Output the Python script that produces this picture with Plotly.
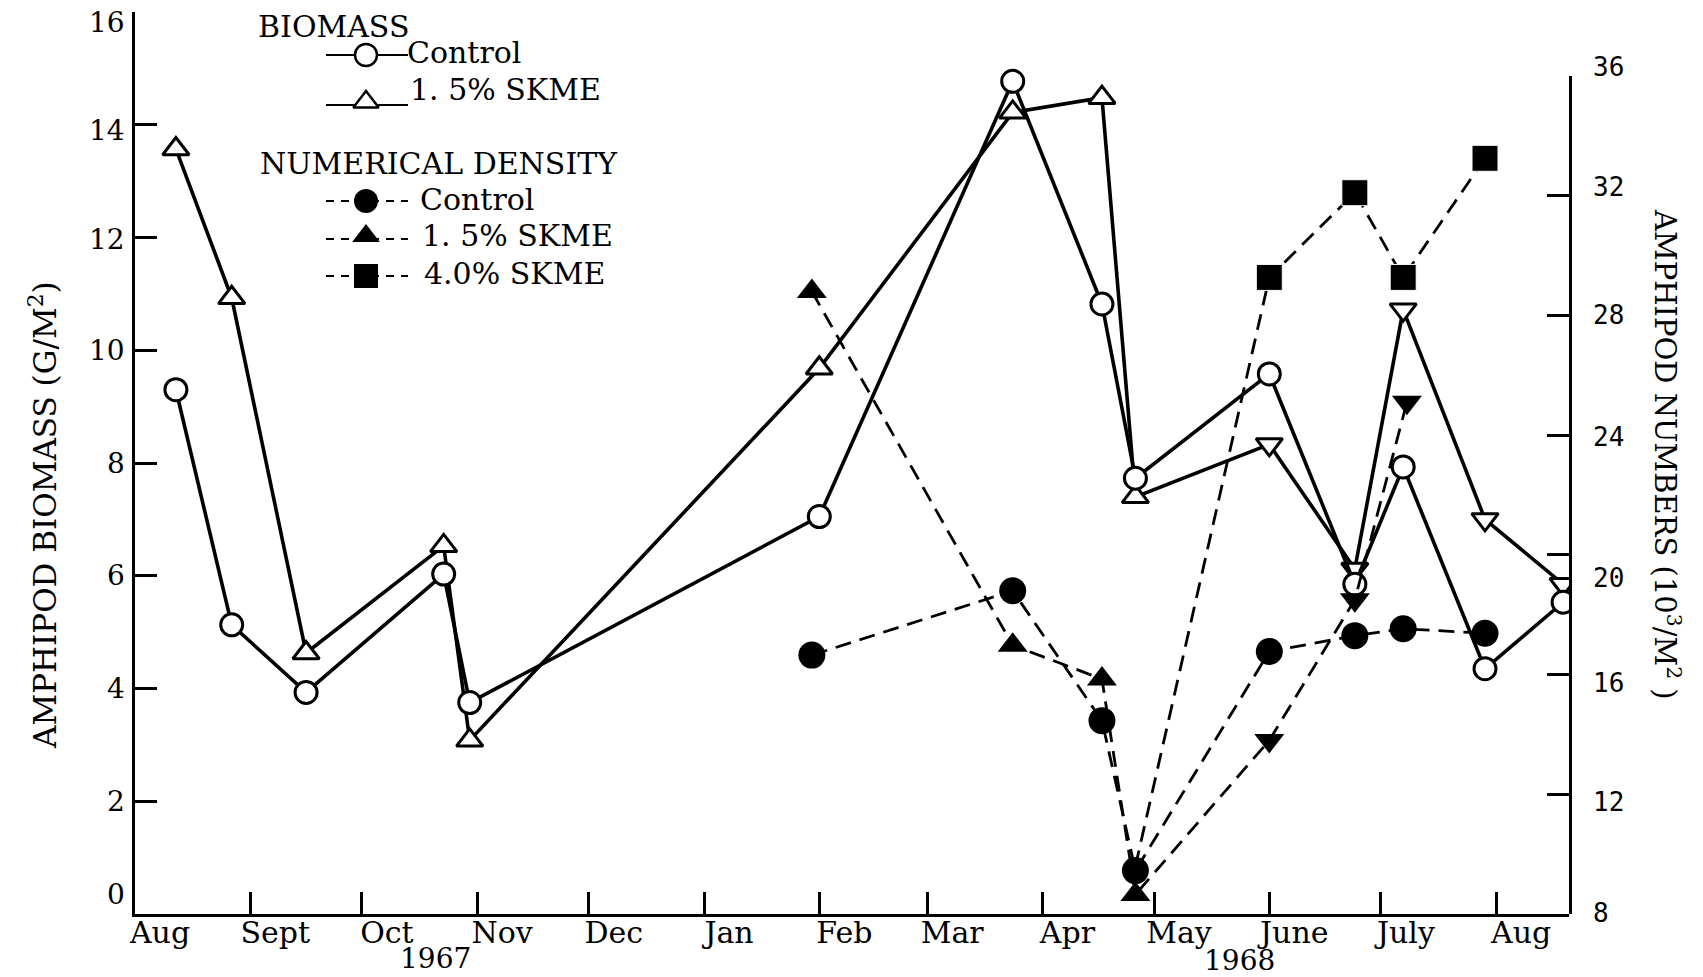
import plotly.graph_objects as go

# ---------------- data ----------------
# Biomass sampling dates (g per square metre, left axis)
bio_dates = ["1967-08-12", "1967-08-27", "1967-09-16", "1967-10-23", "1967-10-30",
             "1968-02-01", "1968-03-24", "1968-04-17", "1968-04-26", "1968-06-01",
             "1968-06-24", "1968-07-07", "1968-07-29", "1968-08-19"]
bio_control = [9.3, 5.13, 3.93, 6.03, 3.75, 7.05, 14.77, 10.82, 7.73, 9.58, 5.85, 7.93, 4.35, 5.53]
bio_skme15 = [13.57, 10.93, 4.63, 6.53, 3.08, 9.68, 14.22, 14.48, 7.4, 8.33, 6.12, 10.72, 7.0, 5.85]

# Numerical density (10^3 per square metre, right axis)
dens_control_dates = ["1968-01-30", "1968-03-24", "1968-04-17", "1968-04-26",
                      "1968-06-01", "1968-06-24", "1968-07-07", "1968-07-29"]
dens_control = [16.65, 18.8, 14.46, 9.45, 16.77, 17.3, 17.53, 17.38]

dens_skme15_dates = ["1968-01-30", "1968-03-24", "1968-04-17", "1968-04-26",
                     "1968-06-01", "1968-06-24", "1968-07-08"]
dens_skme15 = [28.8, 16.98, 15.85, 8.65, 13.8, 18.5, 25.1]

dens_skme40_dates = ["1968-04-26", "1968-06-01", "1968-06-24", "1968-07-07", "1968-07-29"]
dens_skme40 = [9.6, 29.27, 32.1, 29.27, 33.25]

# Axis ticks
month_ticks = ["1967-08-01", "1967-09-01", "1967-10-01", "1967-11-01", "1967-12-01",
               "1968-01-01", "1968-02-01", "1968-03-01", "1968-04-01", "1968-05-01",
               "1968-06-01", "1968-07-01", "1968-08-01"]
month_labels = ["Aug", "Sept", "Oct", "Nov", "Dec", "Jan", "Feb", "Mar", "Apr",
                "May", "June", "July", "Aug"]
biomass_ticks = [0, 2, 4, 6, 8, 10, 12, 14, 16]
numbers_ticks = [8, 12, 16, 20, 24, 28, 32, 36]

# ---------------- layout helpers ----------------
W, H = 1703, 977
L, R, T, B = 135, 1569, 12, 914          # plot-area edges in pixels
SERIF = "DejaVu Serif"
MONO = "DejaVu Sans Mono"
INK = "black"
CLEAR = "rgba(0,0,0,0)"

# hand-set nudges (px, downward) for the typed tick numerals
left_label_nudge = {16: 10, 14: 6, 12: 2, 0: -20}
right_label_nudge = {36: -9, 32: -9, 24: 2, 20: 23, 16: 8, 12: 8, 8: -1}


def fx(x):
    return (x - L) / (R - L)


def fy(y):
    return (B - y) / (B - T)


# triangles point down from June 1968 onward
def tri_symbols(dates):
    return ["triangle-up" if d < "1968-05-15" else "triangle-down" for d in dates]


DASH = "16px,9px"
fig = go.Figure()

# ---- numerical density (dashed, filled markers) ----
# the 4.0% series leaves from the shared late-April low without a marker of its own
fig.add_trace(go.Scatter(
    x=dens_skme40_dates, y=dens_skme40, xaxis="x", yaxis="y2", mode="lines+markers",
    line=dict(color=INK, width=2.8, dash=DASH),
    marker=dict(symbol="square", color=INK, opacity=1,
                size=[0 if d < "1968-05-15" else 26 for d in dens_skme40_dates])))
fig.add_trace(go.Scatter(
    x=dens_skme15_dates, y=dens_skme15, xaxis="x", yaxis="y2", mode="lines+markers",
    line=dict(color=INK, width=2.8, dash=DASH),
    marker=dict(symbol=tri_symbols(dens_skme15_dates), size=26, color=INK)))
fig.add_trace(go.Scatter(
    x=dens_control_dates, y=dens_control, xaxis="x", yaxis="y2", mode="lines+markers",
    line=dict(color=INK, width=2.8, dash=DASH),
    marker=dict(symbol="circle", size=27, color=INK)))

# ---- biomass (solid, open markers) ----
fig.add_trace(go.Scatter(
    x=bio_dates, y=bio_skme15, xaxis="x", yaxis="y", mode="lines+markers",
    line=dict(color=INK, width=3.6),
    marker=dict(symbol=tri_symbols(bio_dates), size=23, color="white",
                line=dict(color=INK, width=3))))
fig.add_trace(go.Scatter(
    x=bio_dates, y=bio_control, xaxis="x", yaxis="y", mode="lines+markers",
    line=dict(color=INK, width=3.6),
    marker=dict(symbol="circle", size=22, color="white",
                line=dict(color=INK, width=3))))

# ---- key (drawn on a hidden pixel-unit overlay) ----
key_rows = [
    # y, dashed?, symbol, fill, text, text-left, text-y
    (55, False, "circle", "white", "Control", 405, 53),
    (105, False, "triangle-up", "white", "1. 5% SKME", 408, 90),
    (201, True, "circle", INK, "Control", 418, 200),
    (239, True, "triangle-up", INK, "1. 5% SKME", 420, 236),
    (276, True, "square", INK, "4.0% SKME", 422, 274),
]
annotations = []
for yk, dashed, sym, fill, label, tx, ty in key_rows:
    fig.add_trace(go.Scatter(
        x=[326, 408], y=[yk, yk], xaxis="x3", yaxis="y3", mode="lines",
        line=dict(color=INK, width=2, dash="8px,7px" if dashed else "solid"),
        hoverinfo="skip"))
    fig.add_trace(go.Scatter(
        x=[366], y=[yk - (3 if sym == "triangle-up" else 0)], xaxis="x3", yaxis="y3",
        mode="markers",
        marker=dict(symbol=sym, size=22 if fill == "white" else 24, color=fill,
                    line=dict(color=INK, width=2.5 if fill == "white" else 0)),
        hoverinfo="skip"))
    annotations.append(dict(text=label, x=fx(tx), y=fy(ty), xref="paper", yref="paper",
                            xanchor="left", yanchor="middle", showarrow=False,
                            font=dict(family=SERIF, size=30, color=INK)))

for txt, tx, ty in [("BIOMASS", 256, 27), ("NUMERICAL DENSITY", 258, 164)]:
    annotations.append(dict(text=txt, x=fx(tx), y=fy(ty), xref="paper", yref="paper",
                            xanchor="left", yanchor="middle", showarrow=False,
                            font=dict(family=SERIF, size=30, color=INK)))

# tick numerals for both value axes
for v in biomass_ticks:
    annotations.append(dict(text=str(v), x=fx(127), y=v, xref="paper", yref="y",
                            xanchor="right", yanchor="middle", showarrow=False,
                            yshift=-left_label_nudge.get(v, 0),
                            font=dict(family=SERIF, size=28, color=INK)))
for v in numbers_ticks:
    annotations.append(dict(text=str(v), x=fx(1591), y=v, xref="paper", yref="y2",
                            xanchor="left", yanchor="middle", showarrow=False,
                            yshift=-right_label_nudge.get(v, 0),
                            font=dict(family=MONO, size=26, color=INK)))

# axis titles and year labels
annotations += [
    dict(text="AMPHIPOD BIOMASS (G/M<sup>2</sup>)", x=fx(43), y=fy(515),
         xref="paper", yref="paper", textangle=-90, showarrow=False,
         xanchor="center", yanchor="middle", font=dict(family=SERIF, size=31, color=INK)),
    dict(text="AMPHIPOD NUMBERS (10<sup>3</sup>/M<sup>2</sup> )", x=fx(1667), y=fy(454),
         xref="paper", yref="paper", textangle=90, showarrow=False,
         xanchor="center", yanchor="middle", font=dict(family=SERIF, size=29, color=INK)),
    dict(text="1967", x=fx(435), y=fy(958), xref="paper", yref="paper", showarrow=False,
         xanchor="center", yanchor="middle", font=dict(family=SERIF, size=28, color=INK)),
    dict(text="1968", x=fx(1239), y=fy(960), xref="paper", yref="paper", showarrow=False,
         xanchor="center", yanchor="middle", font=dict(family=SERIF, size=28, color=INK)),
]

fig.update_layout(
    width=W, height=H,
    margin=dict(l=L, r=W - R, t=T, b=H - B, pad=0, autoexpand=False),
    paper_bgcolor="white", plot_bgcolor=CLEAR,
    showlegend=False,
    annotations=annotations,
    xaxis=dict(
        type="date", range=["1967-08-01", "1968-08-20 14:00"], automargin=False,
        tickmode="array", tickvals=month_ticks, ticktext=month_labels,
        ticks="inside", ticklen=22, tickwidth=2.5, tickcolor=INK,
        showline=True, linewidth=3, linecolor=INK, showgrid=False, zeroline=False,
        tickfont=dict(family=SERIF, size=30, color=INK), ticklabelshift=25,
        ticklabelstandoff=-10, ticklabeloverflow="allow", anchor="y"),
    yaxis=dict(
        range=[0, 16], domain=[0, 1], tickmode="array", tickvals=biomass_ticks,
        automargin=False, showticklabels=False,
        ticks="inside", ticklen=22, tickwidth=2.5, tickcolor=INK,
        showline=True, linewidth=3, linecolor=INK, showgrid=False, zeroline=False,
        anchor="x"),
    yaxis2=dict(
        range=[8, 36], domain=[0, fy(76)], side="right", anchor="x", automargin=False,
        tickmode="array", tickvals=numbers_ticks, showticklabels=False,
        ticks="inside", ticklen=22, tickwidth=2.5, tickcolor=INK,
        showline=True, linewidth=3, linecolor=INK, showgrid=False, zeroline=False),
    xaxis3=dict(range=[L, R], overlaying="x", anchor="y3", visible=False),
    yaxis3=dict(range=[B, T], overlaying="y", anchor="x3", visible=False),
)

fig.write_html("out.html")
